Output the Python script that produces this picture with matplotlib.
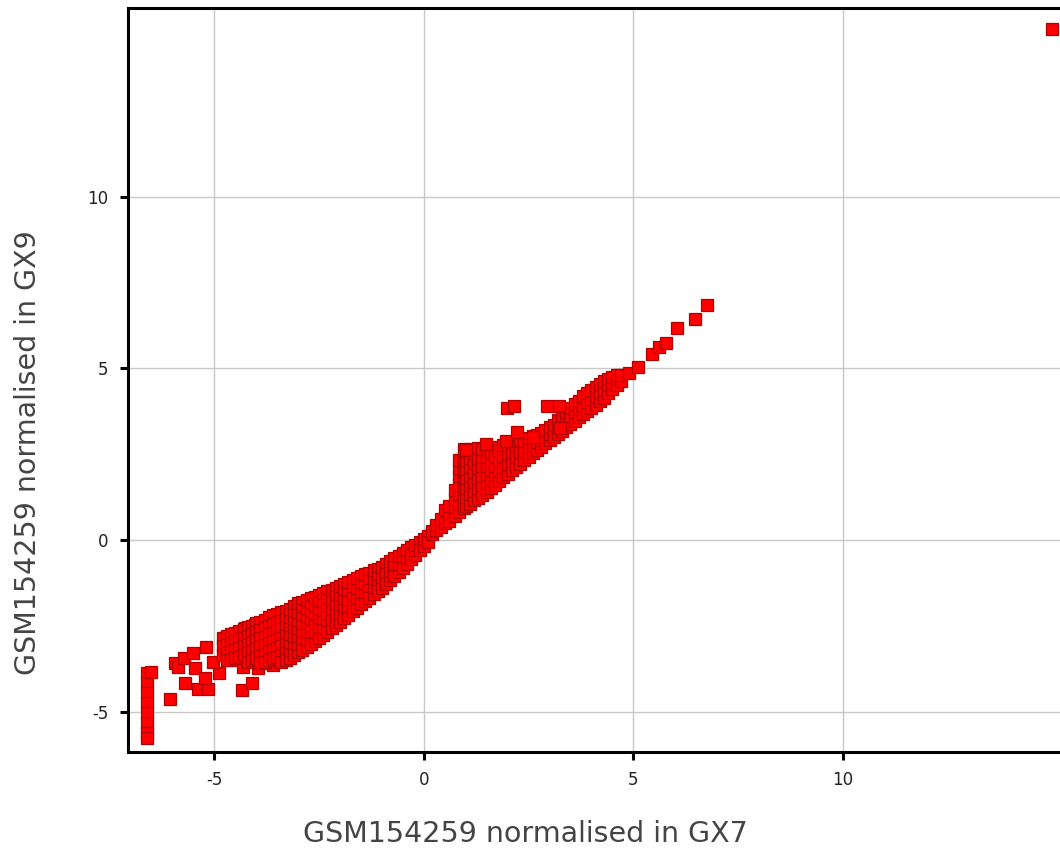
import matplotlib
matplotlib.use("Agg")
import matplotlib.pyplot as plt

# ---------------- data ----------------
# vertical column of points at the low end
column_points = [(-6.61, -3.88), (-6.61, -4.17), (-6.61, -4.46), (-6.61, -4.75),
                 (-6.61, -5.04), (-6.61, -5.34), (-6.61, -5.63), (-6.61, -5.77),
                 (-6.52, -3.85)]

# scattered points in the lower-left tail
tail_points = [(-6.05, -4.64), (-5.94, -3.60), (-5.86, -3.69), (-5.72, -3.45),
               (-5.50, -3.30), (-5.19, -3.12), (-5.45, -3.73), (-5.69, -4.17),
               (-5.38, -4.33), (-5.14, -4.33), (-5.22, -4.02), (-4.90, -3.88),
               (-5.02, -3.55), (-4.78, -2.87), (-4.71, -3.30), (-4.47, -3.27),
               (-4.31, -3.69), (-4.35, -4.37), (-4.11, -4.17), (-3.95, -3.73),
               (-4.26, -2.57), (-4.02, -2.48), (-3.64, -2.33), (-3.78, -2.87),
               (-3.59, -3.64), (-3.64, -3.21)]

# dense lower band: x column -> y values
band_low_x = [-4.8, -4.7, -4.6, -4.5, -4.4, -4.3, -4.2, -4.1, -4.0, -3.9,
              -3.8, -3.7, -3.6, -3.5, -3.4, -3.3, -3.2, -3.1, -3.0, -2.9,
              -2.8, -2.7, -2.6, -2.5, -2.4, -2.3, -2.2, -2.1, -2.0, -1.9,
              -1.8, -1.7, -1.6, -1.5, -1.4, -1.3, -1.2, -1.1, -1.0, -0.9,
              -0.8, -0.7, -0.6, -0.5, -0.4, -0.3, -0.2, -0.1, 0.0, 0.1,
              0.2, 0.3, 0.4]
band_low_y = [
    [-2.85, -3.10, -3.35],
    [-2.80, -3.05, -3.30, -3.50],
    [-2.75, -3.00, -3.25, -3.50],
    [-2.70, -2.95, -3.20, -3.45],
    [-2.65, -2.90, -3.15, -3.40],
    [-2.60, -2.85, -3.10, -3.35],
    [-2.55, -2.80, -3.05, -3.30, -3.55],
    [-2.50, -2.75, -3.00, -3.25, -3.50],
    [-2.43, -2.68, -2.93, -3.18, -3.43],
    [-2.38, -2.62, -2.87, -3.12, -3.37, -3.60],
    [-2.32, -2.57, -2.82, -3.07, -3.32, -3.57],
    [-2.26, -2.50, -2.75, -3.00, -3.25, -3.50],
    [-2.20, -2.45, -2.70, -2.95, -3.20, -3.45],
    [-2.15, -2.40, -2.65, -2.90, -3.15, -3.40],
    [-2.10, -2.35, -2.60, -2.85, -3.10, -3.35, -3.55],
    [-2.06, -2.30, -2.55, -2.80, -3.05, -3.30, -3.50],
    [-3.44, -3.20, -2.97, -2.73, -2.49, -2.26, -2.02],
    [-1.94, -2.18, -2.42, -2.66, -2.90, -3.14, -3.36],
    [-3.27, -3.03, -2.79, -2.56, -2.32, -2.09, -1.85],
    [-1.80, -2.04, -2.28, -2.52, -2.76, -3.00, -3.20],
    [-3.12, -2.89, -2.66, -2.43, -2.21, -1.98, -1.75],
    [-1.70, -1.94, -2.18, -2.42, -2.66, -2.90, -3.03],
    [-2.95, -2.69, -2.43, -2.17, -1.91, -1.65],
    [-1.60, -1.85, -2.10, -2.35, -2.60, -2.86],
    [-2.77, -2.53, -2.28, -2.04, -1.79, -1.55],
    [-1.50, -1.75, -2.00, -2.25, -2.50, -2.68],
    [-2.58, -2.30, -2.01, -1.73, -1.45],
    [-1.40, -1.66, -1.92, -2.18, -2.48],
    [-2.38, -2.12, -1.87, -1.61, -1.35],
    [-1.29, -1.54, -1.79, -2.04, -2.28],
    [-2.18, -1.94, -1.71, -1.47, -1.23],
    [-1.17, -1.43, -1.69, -1.95, -2.08],
    [-1.98, -1.69, -1.41, -1.12],
    [-1.06, -1.32, -1.58, -1.88],
    [-1.78, -1.52, -1.26, -1.00],
    [-0.95, -1.20, -1.45, -1.68],
    [-1.59, -1.36, -1.12, -0.89],
    [-0.84, -1.10, -1.35, -1.49],
    [-1.39, -1.09, -0.78],
    [-0.70, -0.98, -1.28],
    [-1.18, -0.90, -0.62],
    [-0.54, -0.80, -1.06],
    [-0.94, -0.70, -0.46],
    [-0.38, -0.60, -0.82],
    [-0.69, -0.50, -0.30],
    [-0.22, -0.40, -0.57],
    [-0.44, -0.29, -0.14],
    [-0.06, -0.30],
    [-0.17, 0.02],
    [0.10, -0.05],
    [0.16, 0.27],
    [0.28, 0.44],
    [0.38, 0.62],
]

# upper band (hump and tapering line)
band_high_x = [0.5, 0.6, 0.75, 0.85, 0.95, 1.0, 1.1, 1.2, 1.3, 1.4,
               1.5, 1.6, 1.7, 1.8, 1.9, 2.0, 2.1, 2.2, 2.3, 2.4,
               2.5, 2.6, 2.7, 2.8, 2.9, 3.0, 3.1, 3.2, 3.3, 3.4,
               3.5, 3.6, 3.7, 3.8, 3.9, 4.0, 4.1, 4.2, 4.3, 4.4,
               4.5, 4.6, 4.7, 4.9]
band_high_y = [
    [0.48, 0.68, 0.87],
    [0.56, 0.78, 1.00],
    [0.71, 0.95, 1.20, 1.45],
    [0.82, 1.08, 1.34, 1.60, 1.85, 2.10, 2.32],
    [0.93, 1.20, 1.47, 1.74, 2.00, 2.27, 2.52, 2.65],
    [0.98, 1.25, 1.52, 1.80, 2.07, 2.34, 2.60],
    [1.06, 1.33, 1.59, 1.86, 2.13, 2.39, 2.66],
    [1.15, 1.42, 1.70, 1.97, 2.25, 2.52],
    [1.23, 1.52, 1.81, 2.09, 2.38, 2.67],
    [1.32, 1.60, 1.87, 2.14, 2.42, 2.65],
    [1.40, 1.65, 1.91, 2.16, 2.42, 2.67],
    [1.50, 1.77, 2.03, 2.30, 2.56],
    [1.60, 1.88, 2.15, 2.43, 2.71],
    [1.71, 2.00, 2.30, 2.60],
    [1.82, 2.13, 2.45, 2.76],
    [1.93, 2.22, 2.50, 2.78],
    [2.03, 2.30, 2.56, 2.83],
    [2.13, 2.43, 2.73],
    [2.22, 2.56, 2.90],
    [2.32, 2.60, 2.88],
    [2.42, 2.70, 2.98],
    [2.52, 2.78, 3.02],
    [2.61, 2.84, 3.07],
    [2.71, 2.92, 3.13],
    [2.81, 3.00, 3.20],
    [2.90, 3.10, 3.28],
    [3.00, 3.35],
    [3.09, 3.30, 3.48],
    [3.18, 3.38, 3.58],
    [3.28, 3.50, 3.72],
    [3.38, 3.60, 3.83],
    [3.47, 3.72, 3.96],
    [3.57, 3.81, 4.05],
    [3.66, 3.92, 4.18],
    [3.75, 4.01, 4.27],
    [3.85, 4.10, 4.38],
    [3.94, 4.20, 4.46],
    [4.05, 4.30, 4.55],
    [4.15, 4.38, 4.62],
    [4.27, 4.50, 4.70],
    [4.39, 4.57, 4.75],
    [4.50, 4.70, 4.80],
    [4.63, 4.82],
    [4.86],
]

# isolated points above / beyond the main cloud
extra_points = [(1.00, 2.62), (1.48, 2.80), (1.96, 2.88), (2.60, 3.00), (3.25, 3.26),
                (2.22, 3.15), (1.99, 3.85), (2.15, 3.91), (2.94, 3.91), (3.23, 3.91),
                (5.10, 5.04), (5.45, 5.42), (5.62, 5.63), (5.79, 5.74),
                (6.05, 6.18), (6.46, 6.44), (6.75, 6.85),
                (15.00, 14.90)]

x_ticks = [-5, 0, 5, 10]
y_ticks = [-5, 0, 5, 10]
x_tick_labels = ["-5", "0", "5", "10"]
y_tick_labels = ["-5", "0", "5", "10"]
x_label = "GSM154259 normalised in GX7"
y_label = "GSM154259 normalised in GX9"

# ---------------- assemble ----------------
xs, ys = [], []
for px, py in column_points + tail_points:
    xs.append(px); ys.append(py)
for cx, col in zip(band_low_x, band_low_y):
    for v in col:
        xs.append(cx); ys.append(v)
for cx, col in zip(band_high_x, band_high_y):
    for v in col:
        xs.append(cx); ys.append(v)
for px, py in extra_points:
    xs.append(px); ys.append(py)

# ---------------- figure ----------------
W, H = 1060, 851
fig = plt.figure(figsize=(W / 100, H / 100), dpi=100)
ax = fig.add_axes([128 / W, (H - 752) / H, (1062 - 128) / W, (752 - 8) / H])

ax.plot(xs, ys, linestyle="none", marker="s", markersize=9.0,
        markerfacecolor="#ff0000", markeredgecolor="#b00000",
        markeredgewidth=0.9, zorder=3, clip_on=False)

ax.set_xlim(-7.06, 15.23)
ax.set_ylim(-6.18, 15.5)

ax.set_xticks(x_ticks)
ax.set_xticklabels(x_tick_labels)
ax.set_yticks(y_ticks)
ax.set_yticklabels(y_tick_labels)

ax.grid(True, color="#c8c8c8", linewidth=1.0, zorder=0)
ax.set_axisbelow(True)

for side in ["left", "bottom", "top"]:
    ax.spines[side].set_linewidth(2.2)
    ax.spines[side].set_color("black")
ax.spines["right"].set_visible(False)

ax.tick_params(axis="both", direction="out", length=6, width=2.2,
               color="black", labelsize=12, labelcolor="#222222", pad=8)

fig.text(525 / W, 1 - 834 / H, x_label, ha="center", va="center",
         fontsize=20.5, color="#444444", family="DejaVu Sans")
fig.text(28 / W, 1 - 453 / H, y_label, ha="center", va="center",
         rotation=90, fontsize=20.5, color="#444444", family="DejaVu Sans")

fig.savefig("out.png", dpi=100)
